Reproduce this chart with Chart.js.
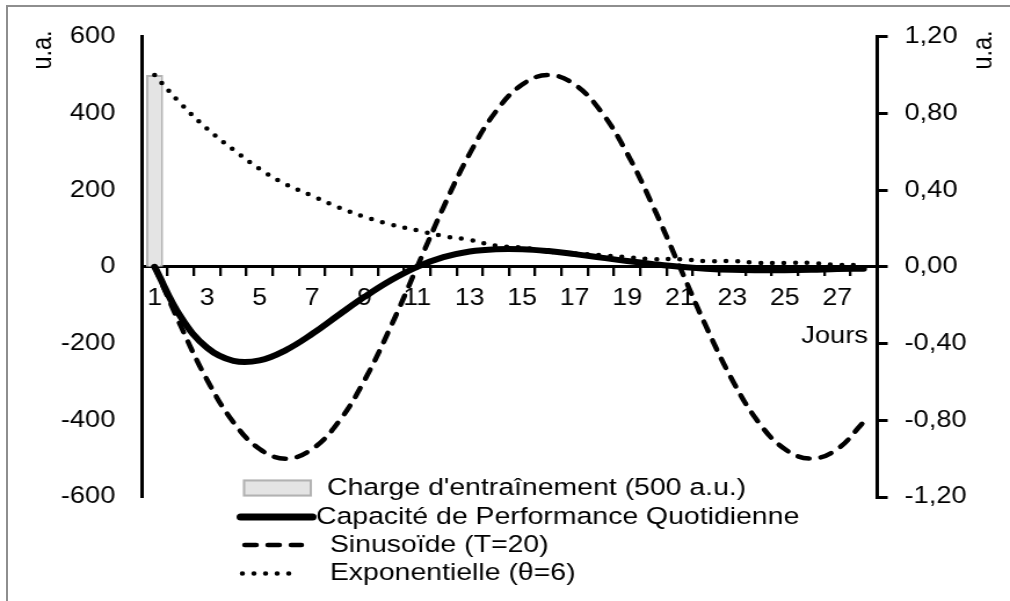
<!DOCTYPE html>
<html lang="fr">
<head>
<meta charset="utf-8">
<title>Capacité de Performance Quotidienne</title>
<script src="https://cdn.jsdelivr.net/npm/chart.js@4.4.1/dist/chart.umd.min.js"></script>
<style>
    html, body { margin: 0; padding: 0; background: #fff; overflow: hidden; }
    #wrap { position: relative; width: 1010px; height: 601px; }
    #frame { position: absolute; left: 6px; top: 5px; width: 1030px; height: 630px; border: 2px solid #8e8e8e; box-sizing: border-box; }
    /* the source figure is stretched sideways, so the canvas is stretched the same way */
    #chart { position: absolute; left: 0; top: 0; transform: scaleX(1.1596); transform-origin: 0 0; }
</style>
</head>
<body>
<div id="wrap">
    <div id="frame"></div>
    <canvas id="chart" width="871" height="601"></canvas>
</div>
<script>
// Days on the x axis
const jours = ['1', '2', '3', '4', '5', '6', '7', '8', '9', '10', '11', '12', '13', '14',
    '15', '16', '17', '18', '19', '20', '21', '22', '23', '24', '25', '26', '27', '28'];
const joursAffiches = ['1', '3', '5', '7', '9', '11', '13', '15', '17', '19', '21', '23', '25', '27'];

// Training load (left axis, u.a.)
const charge = [500, null, null, null, null, null, null, null, null, null, null, null, null, null,
    null, null, null, null, null, null, null, null, null, null, null, null, null, null];

// Daily performance capacity (left axis, u.a.)
const performance = [0, -131, -211, -245, -244, -217, -175, -126, -78, -35, 0, 25, 40, 46,
    46, 41, 33, 24, 15, 7, 0, -5, -8, -9, -9, -8, -6, -5];

// Sinusoid T=20 (right axis)
const sinusoide = [0, -0.31, -0.59, -0.81, -0.95, -1.00, -0.95, -0.81, -0.59, -0.31, 0, 0.31, 0.59, 0.81,
    0.95, 1.00, 0.95, 0.81, 0.59, 0.31, 0, -0.31, -0.59, -0.81, -0.95, -1.00, -0.95, -0.81];

// Exponential theta=6 (right axis)
const exponentielle = [1.00, 0.85, 0.72, 0.61, 0.51, 0.43, 0.37, 0.31, 0.26, 0.22, 0.19, 0.16, 0.14, 0.11,
    0.10, 0.08, 0.07, 0.06, 0.05, 0.04, 0.04, 0.03, 0.03, 0.02, 0.02, 0.02, 0.01, 0.01];

// Axis ticks
const ticksGauche = [-600, -400, -200, 0, 200, 400, 600];
const ticksDroite = [-1.2, -0.8, -0.4, 0, 0.4, 0.8, 1.2];

const FONT = "'Liberation Sans', Arial, Helvetica, sans-serif";

// Units, "Jours" and the legend are drawn by hand
const extras = {
    id: 'extras',
    afterDraw(chart) {
        const ctx = chart.ctx;
        const area = chart.chartArea;
        ctx.save();
        ctx.fillStyle = '#000';
        ctx.font = '23.5px ' + FONT;
        ctx.textAlign = 'center';
        ctx.textBaseline = 'middle';
        [37.5, 849].forEach(x => {
            ctx.save();
            ctx.translate(x, 50);
            ctx.rotate(-Math.PI / 2);
            ctx.fillText('u.a.', 0, 0);
            ctx.restore();
        });
        ctx.textAlign = 'right';
        ctx.fillText('Jours', area.right - 7.5, 337);

        // legend
        const rows = [
            { x0: 209.5, x1: 269, y: 488, tx: 282 },
            { x0: 207.5, x1: 269.5, y: 517, tx: 272.5 },
            { x0: 211, x1: 260, y: 545, tx: 284.5 },
            { x0: 209, x1: 259, y: 573.5, tx: 284.5 }
        ];
        ctx.font = '24.5px ' + FONT;
        ctx.textAlign = 'left';
        chart.data.datasets.forEach((ds, i) => {
            const r = rows[i];
            ctx.save();
            if (ds.type === 'bar') {
                ctx.fillStyle = ds.backgroundColor;
                ctx.strokeStyle = ds.borderColor;
                ctx.lineWidth = 2;
                ctx.fillRect(r.x0, r.y - 8.5, r.x1 - r.x0, 17);
                ctx.strokeRect(r.x0 + 1, r.y - 7.5, r.x1 - r.x0 - 2, 15);
            } else {
                ctx.strokeStyle = ds.borderColor;
                ctx.lineWidth = ds.type === 'line' && !ds.borderDash ? 7 : ds.borderWidth;
                ctx.lineCap = ds.borderCapStyle || 'butt';
                ctx.setLineDash(ds.borderDash || []);
                ctx.beginPath();
                ctx.moveTo(r.x0, r.y);
                ctx.lineTo(r.x1, r.y);
                ctx.stroke();
            }
            ctx.restore();
            ctx.fillText(ds.label, r.tx, r.y);
        });
        ctx.restore();
    }
};

const ctx = document.getElementById('chart').getContext('2d');
new Chart(ctx, {
    type: 'bar',
    data: {
        labels: jours,
        datasets: [
            {
                type: 'bar',
                label: "Charge d'entraînement (500 a.u.)",
                data: charge,
                yAxisID: 'y',
                backgroundColor: '#e4e4e4',
                borderColor: '#b2b2b2',
                borderWidth: 2,
                barPercentage: 0.65,
                categoryPercentage: 1,
                order: 4
            },
            {
                type: 'line',
                label: 'Capacité de Performance Quotidienne',
                data: performance,
                yAxisID: 'y',
                borderColor: '#000',
                borderWidth: 6,
                borderCapStyle: 'round',
                pointRadius: 0,
                tension: 0.4,
                fill: false,
                order: 3
            },
            {
                type: 'line',
                label: 'Sinusoïde (T=20)',
                data: sinusoide,
                yAxisID: 'y1',
                borderColor: '#000',
                borderWidth: 4.5,
                borderDash: [10, 10],
                borderCapStyle: 'round',
                pointRadius: 0,
                tension: 0.4,
                fill: false,
                order: 2
            },
            {
                type: 'line',
                label: 'Exponentielle (θ=6)',
                data: exponentielle,
                yAxisID: 'y1',
                borderColor: '#000',
                borderWidth: 4.5,
                borderDash: [0, 10],
                borderCapStyle: 'round',
                pointRadius: 0,
                tension: 0.4,
                fill: false,
                order: 1
            }
        ]
    },
    options: {
        responsive: false,
        devicePixelRatio: 1,
        animation: false,
        layout: {
            padding: { top: 33, bottom: 104, left: 0, right: 0 }
        },
        plugins: {
            legend: { display: false },
            tooltip: { enabled: false }
        },
        scales: {
            x: {
                type: 'category',
                position: { y: 0 },
                offset: true,
                grid: {
                    display: true,
                    drawOnChartArea: false,
                    offset: true,
                    color: '#000',
                    lineWidth: 2.3,
                    tickLength: 8
                },
                border: { display: true, color: '#000', width: 3 },
                ticks: {
                    autoSkip: false,
                    maxRotation: 0,
                    padding: 10,
                    color: '#000',
                    font: { family: FONT, size: 23 },
                    callback: function(value) {
                        const label = this.getLabelForValue(value);
                        return joursAffiches.includes(label) ? label : '';
                    }
                }
            },
            y: {
                position: 'left',
                min: -600,
                max: 600,
                grid: { display: false, drawTicks: false },
                border: { display: true, color: '#000', width: 3 },
                ticks: {
                    padding: 22.5,
                    color: '#000',
                    font: { family: FONT, size: 23.5 },
                    callback: v => String(v)
                },
                afterBuildTicks: s => { s.ticks = ticksGauche.map(v => ({ value: v })); },
                afterFit: s => { s.width = 122; }
            },
            y1: {
                position: 'right',
                min: -1.2,
                max: 1.2,
                grid: {
                    display: true,
                    drawOnChartArea: false,
                    color: '#000',
                    lineWidth: 3,
                    tickLength: 9.5
                },
                border: { display: true, color: '#000', width: 3 },
                ticks: {
                    padding: 14.5,
                    color: '#000',
                    font: { family: FONT, size: 23.5 },
                    callback: v => v.toFixed(2).replace('.', ',')
                },
                afterBuildTicks: s => { s.ticks = ticksDroite.map(v => ({ value: v })); },
                afterFit: s => { s.width = 115; }
            }
        }
    },
    plugins: [extras]
});
</script>
</body>
</html>
